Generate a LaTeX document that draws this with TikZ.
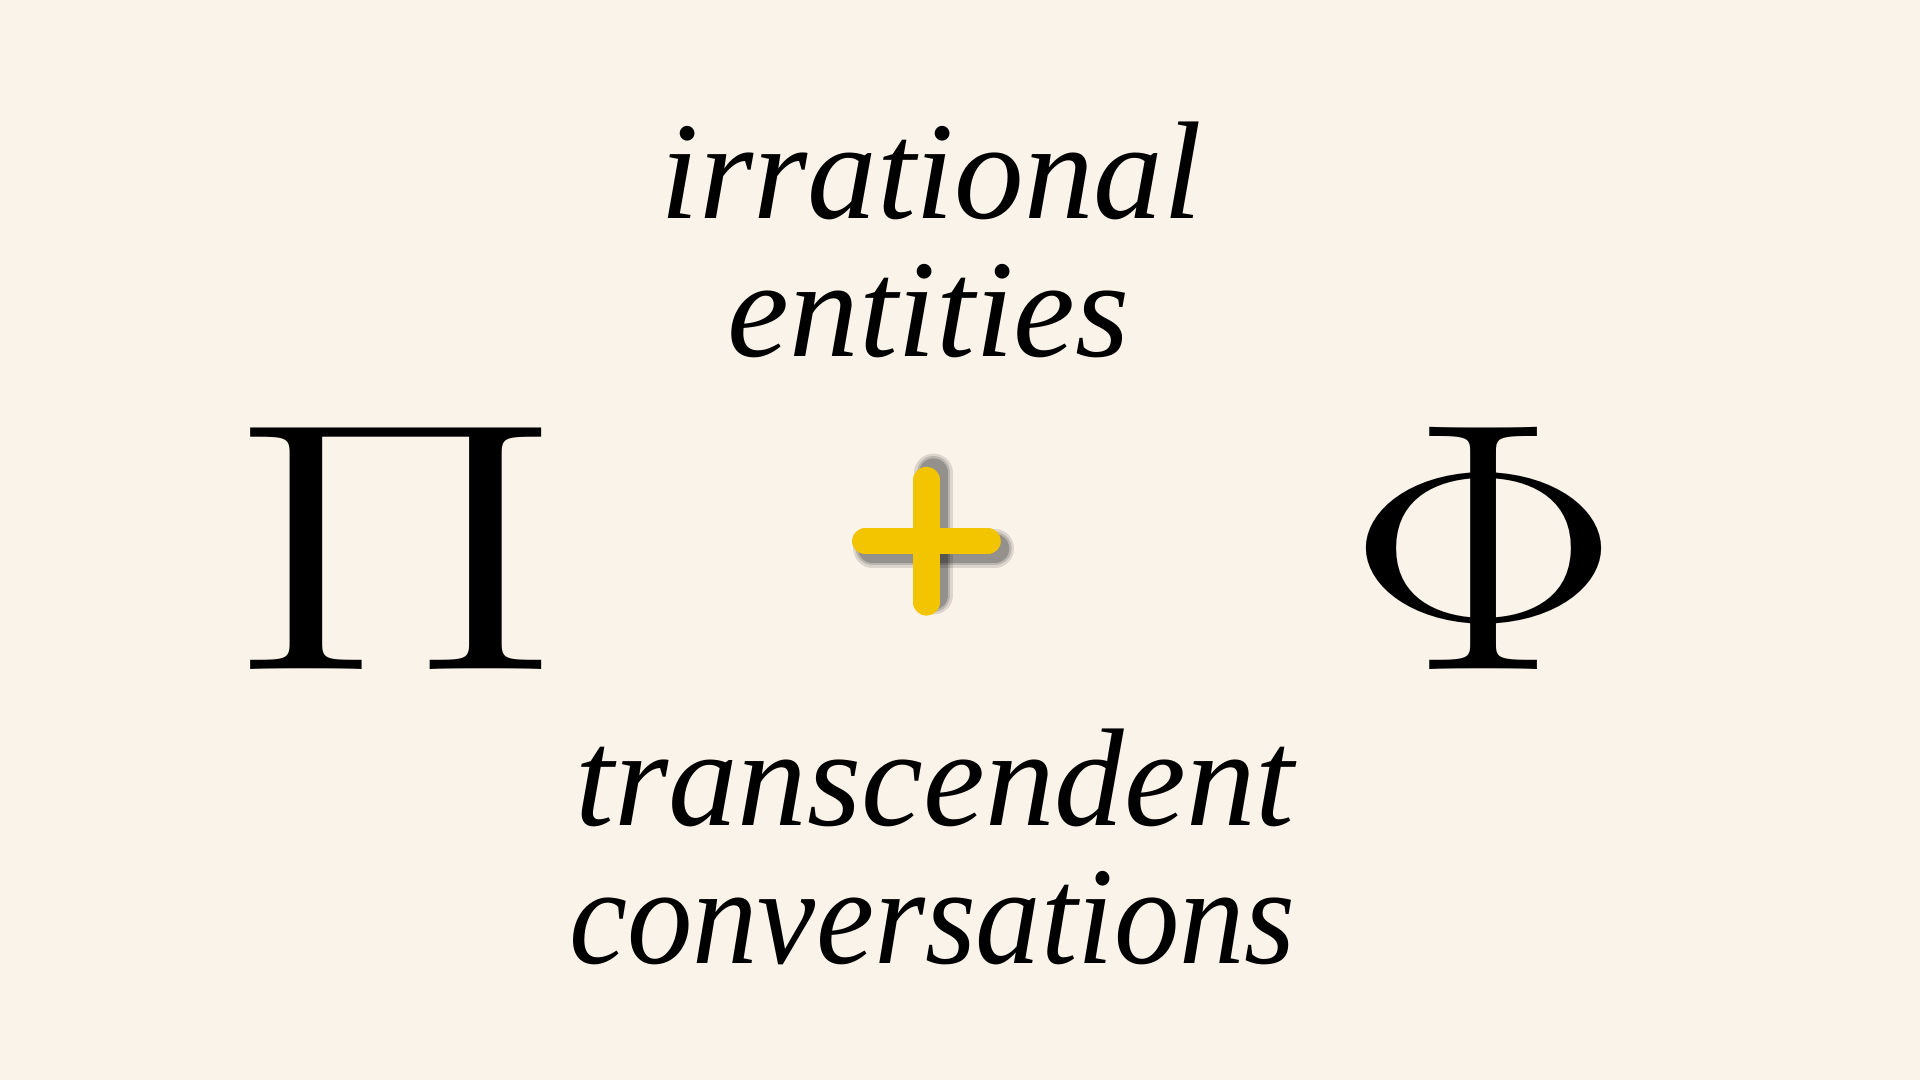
\documentclass[tikz,border=0pt]{standalone}
\usepackage{fontspec}
\usepackage{graphicx}
\setmainfont{Liberation Serif}

\definecolor{paper}{RGB}{250,243,234}
\definecolor{plusyellow}{RGB}{243,196,0}

\begin{document}
\begin{tikzpicture}[
  words/.style={anchor=base, font=\fontsize{33}{38}\selectfont\itshape},
  greek/.style={anchor=base, font=\Huge},
  bar/.style={line width=0.22cm, line cap=round}]
\fill[paper] (0,0) rectangle (16cm, 9cm);
\node[words] (irr) at (7.76, 7.18) {irrational};
\node[words] (ent) at (7.74, 6.03) {entities};
\node[greek] (pi) at (3.30, 3.42) {\scalebox{4.7}[3.38]{$\Pi$}};
\node[greek] (phi) at (12.37, 3.42) {\scalebox{3.9}[3.38]{$\Phi$}};
\coordinate (plus) at (7.72, 4.49);
% soft shadow of the plus
\foreach \w/\o in {0.32/0.12, 0.28/0.15, 0.24/0.2} {
  \draw[bar, line width=\w cm, black, opacity=\o] ([shift={(-0.45,-0.06)}]plus) -- ([shift={(0.57,-0.06)}]plus);
  \draw[bar, line width=\w cm, black, opacity=\o] ([shift={(0.06,-0.45)}]plus) -- ([shift={(0.06,0.57)}]plus);
}
\draw[bar, plusyellow] ([xshift=-0.51cm]plus) -- ([xshift=0.51cm]plus);
\draw[bar, plusyellow] ([yshift=-0.51cm]plus) -- ([yshift=0.51cm]plus);
\node[words] (trans) at (7.79, 2.12) {transcendent};
\node[words] (conv) at (7.77, 0.97) {\scalebox{0.94}[1]{conversations}};
\end{tikzpicture}
\end{document}
